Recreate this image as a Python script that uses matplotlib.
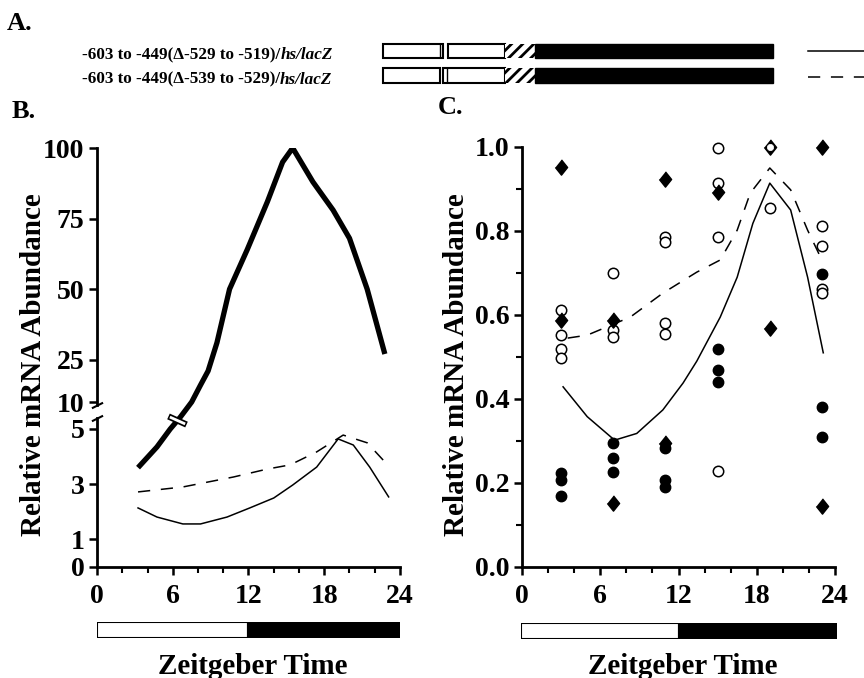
import numpy as np
import matplotlib.pyplot as plt
from matplotlib.patches import Rectangle
from matplotlib.ticker import MultipleLocator

plt.rcParams['font.family'] = 'Liberation Serif'
plt.rcParams['font.weight'] = 'bold'
plt.rcParams['hatch.linewidth'] = 2.0

# ---- panel B data (relative abundance, broken y axis) ----
b_thick_x = [3.25, 4.75, 5.8, 6.6, 7.5, 8.2, 8.8, 9.5, 10.5, 11.9, 13.5, 14.7, 15.5, 17.1, 18.7, 20.0, 21.4, 22.8]
b_thick_y = [3.6, 4.35, 5.0, 7.2, 10.0, 16, 21, 31, 50, 64, 81, 95, 100, 88, 78, 68, 50, 27]
b_529_x = [3.25, 4.75, 6.8, 8.2, 10.3, 12.1, 14.0, 15.5, 17.4, 19.1, 20.3, 21.6, 23.1]
b_529_y = [2.14, 1.81, 1.56, 1.56, 1.81, 2.14, 2.5, 2.97, 3.62, 4.64, 4.42, 3.62, 2.54]
b_539_x = [3.25, 6.8, 10.8, 13.5, 15.3, 17.4, 19.5, 21.4, 23.1]
b_539_y = [2.72, 2.9, 3.26, 3.55, 3.7, 4.17, 4.78, 4.5, 3.66]
b_break = (6.35, 6.7)
b_yticks = [0, 1, 3, 5, 10, 25, 50, 75, 100]

# ---- panel C data ----
c_529_x = [3.15, 5.0, 7.1, 8.8, 10.8, 12.35, 13.4, 15.2, 16.5, 17.7, 19.0, 20.6, 21.9, 23.1]
c_529_y = [0.429, 0.358, 0.302, 0.318, 0.374, 0.438, 0.49, 0.595, 0.69, 0.818, 0.914, 0.85, 0.69, 0.51]
c_539_x = [3.5, 5.0, 8.3, 10.8, 13.4, 15.2, 16.5, 17.5, 19.0, 20.6, 21.9, 23.1]
c_539_y = [0.545, 0.552, 0.595, 0.652, 0.702, 0.731, 0.802, 0.89, 0.95, 0.898, 0.802, 0.724]

diam_x = [3, 3, 7, 7, 11, 11, 15, 19, 19, 23, 23]
diam_y = [0.952, 0.588, 0.588, 0.153, 0.925, 0.296, 0.894, 1.0, 0.568, 1.0, 0.145]
fc_x = [3, 3, 3, 7, 7, 7, 11, 11, 11, 15, 15, 15, 23, 23, 23]
fc_y = [0.225, 0.207, 0.169, 0.296, 0.259, 0.227, 0.283, 0.207, 0.19, 0.518, 0.470, 0.441, 0.698, 0.380, 0.310]
oc_x = [3, 3, 3, 3, 7, 7, 7, 11, 11, 11, 11, 15, 15, 15, 15, 19, 23, 23, 23, 23]
oc_y = [0.612, 0.552, 0.518, 0.497, 0.701, 0.564, 0.548, 0.786, 0.775, 0.580, 0.554,
        0.997, 0.915, 0.786, 0.229, 0.854, 0.812, 0.764, 0.662, 0.652]
oc_top_x = [19]
oc_top_y = [1.0]

# light/dark bar
ld_left = [0, 12]
ld_width = [12, 12]
ld_colors = ['white', 'black']

xticks = [0, 6, 12, 18, 24]

constructs = ['-603 to -449(Δ-529 to -519)/', '-603 to -449(Δ-539 to -529)/']
construct_tail = 'hs/lacZ'

fig = plt.figure(figsize=(8.64, 6.78), dpi=100)
W, H = 864, 678


def fa(x0, y0, x1, y1):
    return [x0 / W, 1 - y1 / H, (x1 - x0) / W, (y1 - y0) / H]


# ---- panel A schematic ----
axA = fig.add_axes([0, 0, 1, 1], zorder=-1)
axA.set_xlim(0, W)
axA.set_ylim(H, 0)
axA.axis('off')
rows = [(44, 58), (68, 83)]
boxes = [[(383, 443), (448, 505)], [(383, 440), (443, 505)]]
marks = [440, 447]
for (y0, y1), bx, mk, lab in zip(rows, boxes, marks, constructs):
    for a, b in bx:
        axA.add_patch(Rectangle((a, y0), b - a, y1 - y0, fc='white', ec='black', lw=1.5))
    axA.plot([mk, mk], [y0 + 1, y1 - 1], color='black', lw=1)
    axA.add_patch(Rectangle((505, y0), 30, y1 - y0, fc='white', ec='black', lw=0, hatch='///'))
    axA.add_patch(Rectangle((535, y0), 238, y1 - y0, fc='black', ec='black', lw=1))
    t1 = axA.text(82, (y0 + y1) / 2 + 4, lab, fontsize=12.3, va='center', ha='left')
    axA.annotate(construct_tail, xy=(1, 0), xycoords=t1, va='bottom', ha='left',
                 fontsize=12.3, fontstyle='italic')
axA.plot([808, 864], [51, 51], color='black', lw=1.1)
axA.plot([808, 864], [77, 77], color='black', lw=1.1, linestyle=(0, (8, 7)))

fig.text(7 / W, 1 - 24 / H, 'A.', fontsize=19, va='center', ha='left')
fig.text(12 / W, 1 - 112 / H, 'B.', fontsize=19, va='center', ha='left')
fig.text(438 / W, 1 - 108 / H, 'C.', fontsize=19, va='center', ha='left')

# ---- panel B ----
knots_v = [0, 5, 10, 100]
knots_p = [0, 138, 165, 419]


def fwd(v):
    return np.interp(v, knots_v, knots_p)


def inv(p):
    return np.interp(p, knots_p, knots_v)


axB = fig.add_axes(fa(97, 148, 400, 567))
axB.set_yscale('function', functions=(fwd, inv))
axB.plot(b_thick_x, b_thick_y, color='black', lw=3.8, solid_capstyle='butt', solid_joinstyle='round')
axB.plot(b_529_x, b_529_y, color='black', lw=1.1)
axB.plot(b_539_x, b_539_y, color='black', lw=1.1, linestyle=(0, (8, 7)))
axB.plot(*b_break, marker=[(-1, 0.45), (1, -0.45)], ms=13, mew=4.5, mec='black', ls='none')
axB.plot(*b_break, marker=[(-1, 0.45), (1, -0.45)], ms=11, mew=2, mec='white', ls='none')
axB.set_xlim(0, 24)
axB.set_ylim(0, 100)
axB.set_yticks(b_yticks)
axB.set_yticklabels([str(t) for t in b_yticks])
axB.spines['left'].set_visible(False)
ytr = axB.get_yaxis_transform()
axB.plot([0, 0], [0, 7.0], color='black', lw=2, transform=ytr, clip_on=False)
axB.plot([0, 0], [9.4, 100], color='black', lw=2, transform=ytr, clip_on=False)
for yb in [7.0, 9.4]:
    axB.plot([0], [yb], marker=[(-1, -0.5), (1, 0.5)], ms=8, mew=1.5, mec='black',
             transform=ytr, clip_on=False)

# ---- panel C ----
axC = fig.add_axes(fa(522, 147, 835, 567))
axC.plot(c_529_x, c_529_y, color='black', lw=1.1)
axC.plot(c_539_x, c_539_y, color='black', lw=1.1, linestyle=(0, (8, 7)))
diamond = [(0, 1), (0.8, 0), (0, -1), (-0.8, 0)]
axC.plot(oc_x, oc_y, 'o', ms=7.5, mfc='white', mec='black', mew=1.1, clip_on=False, zorder=3)
axC.plot(fc_x, fc_y, 'o', ms=7.5, mfc='black', mec='black', clip_on=False, zorder=3)
axC.plot(diam_x, diam_y, ls='none', marker=diamond, ms=11, mfc='black', mec='black',
         clip_on=False, zorder=4)
axC.plot(oc_top_x, oc_top_y, 'o', ms=4.5, mfc='white', mec='white', mew=0.5, clip_on=False, zorder=5)
axC.set_xlim(0, 24)
axC.set_ylim(0, 1)
axC.yaxis.set_major_locator(MultipleLocator(0.2))
axC.yaxis.set_minor_locator(MultipleLocator(0.1))
axC.yaxis.set_major_formatter(lambda v, p: f'{v:.1f}')

for ax in [axB, axC]:
    for s in ['top', 'right']:
        ax.spines[s].set_visible(False)
    for s in ['left', 'bottom']:
        ax.spines[s].set_linewidth(2)
    ax.set_xticks(xticks)
    ax.xaxis.set_minor_locator(MultipleLocator(2))
    ax.tick_params(which='major', direction='out', length=6, width=1.8, labelsize=20)
    ax.tick_params(which='minor', direction='out', length=4, width=1.5)
    ax.tick_params(axis='y', pad=3)
    ax.tick_params(axis='x', pad=6)
    ax.patch.set_alpha(0)

fig.text(34 / W, 1 - 365 / H, 'Relative mRNA Abundance', rotation=90, fontsize=21,
         va='center', ha='center')
fig.text(456 / W, 1 - 365 / H, 'Relative mRNA Abundance', rotation=90, fontsize=21,
         va='center', ha='center')

# ---- light/dark bars ----
for box in [fa(97, 622, 400, 638), fa(521, 623, 837, 639)]:
    axb = fig.add_axes(box)
    axb.barh(0, ld_width, left=ld_left, color=ld_colors, edgecolor='black', height=1, lw=1.5)
    axb.set_xlim(0, 24)
    axb.set_ylim(-0.5, 0.5)
    axb.axis('off')

fig.text(253 / W, 1 - 666 / H, 'Zeitgeber Time', fontsize=21, va='center', ha='center')
fig.text(683 / W, 1 - 666 / H, 'Zeitgeber Time', fontsize=21, va='center', ha='center')

fig.savefig('out.png', dpi=100)
